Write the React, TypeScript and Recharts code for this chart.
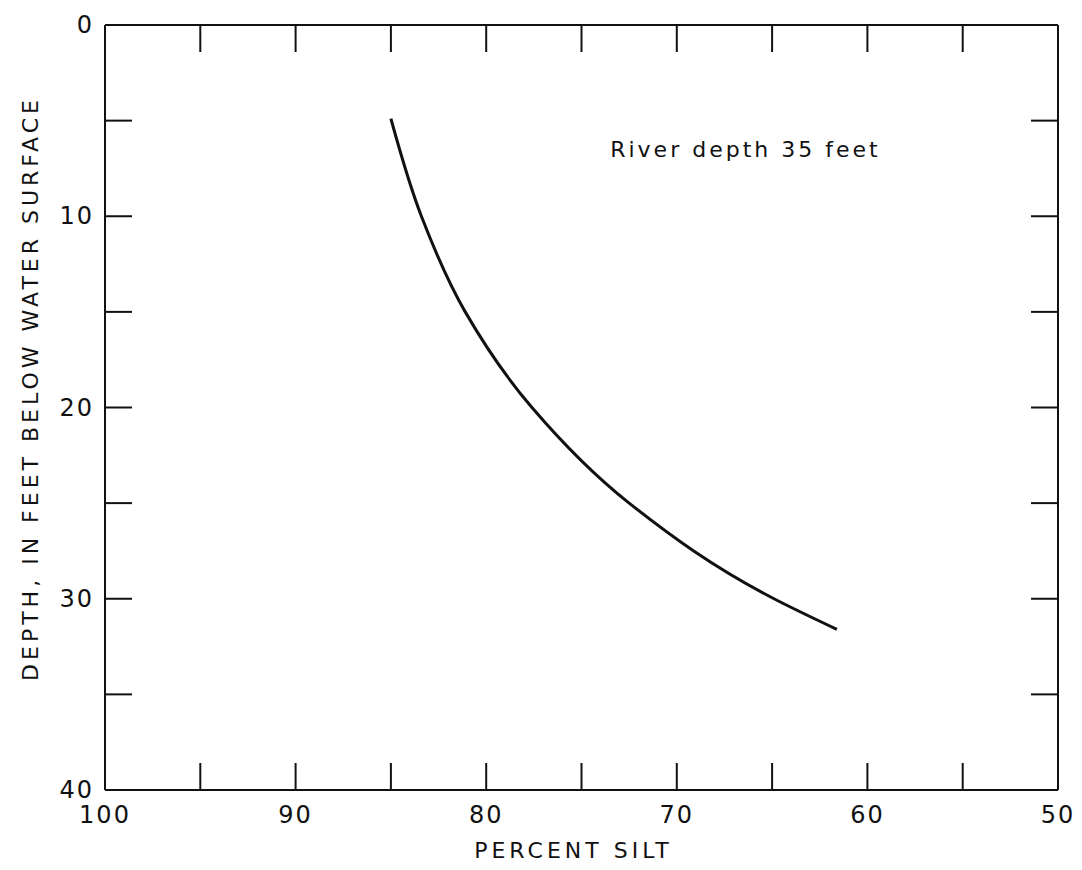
import React from "react";
import { LineChart, Line, XAxis, YAxis, ReferenceDot } from "recharts";

// Data
const depthFeet = [4.9, 10.0, 15.0, 20.0, 25.0, 30.0, 31.6];
const percentSilt = [85.0, 83.4, 81.1, 77.6, 72.5, 64.9, 61.6];

const xTicks = [100, 95, 90, 85, 80, 75, 70, 65, 60, 55, 50];
const yTicks = [0, 5, 10, 15, 20, 25, 30, 35, 40];
const xLabelled = [100, 90, 80, 70, 60, 50];
const yLabelled = [0, 10, 20, 30, 40];

const xTitle = "PERCENT SILT";
const yTitle = "DEPTH, IN FEET BELOW WATER SURFACE";
const note = "River depth 35 feet";
const noteSilt = 66.4;
const noteDepth = 6.9;

const data = depthFeet.map((d, i) => ({ depth: d, silt: percentSilt[i] }));

const FONT = "'DejaVu Sans', sans-serif";
const TICK_LEN = 27;
const INK = "#111";

const BottomTick = (props: any) => {
  const { x, y, payload } = props;
  const v = payload.value;
  return (
    <g>
      <line x1={x} y1={y} x2={x} y2={y - TICK_LEN} stroke={INK} strokeWidth={2} />
      {xLabelled.includes(v) && (
        <text x={x} y={y + 33} textAnchor="middle" fontSize={24} fontFamily={FONT} fill={INK} letterSpacing={2}>
          {v}
        </text>
      )}
    </g>
  );
};

const TopTick = (props: any) => {
  const { x, y } = props;
  return <line x1={x} y1={y} x2={x} y2={y + TICK_LEN} stroke={INK} strokeWidth={2} />;
};

const LeftTick = (props: any) => {
  const { x, y, payload } = props;
  const v = payload.value;
  return (
    <g>
      <line x1={x} y1={y} x2={x + TICK_LEN} y2={y} stroke={INK} strokeWidth={2} />
      {yLabelled.includes(v) && (
        <text x={x - 11} y={y} textAnchor="end" dominantBaseline="central" fontSize={24} fontFamily={FONT} fill={INK} letterSpacing={2}>
          {v}
        </text>
      )}
    </g>
  );
};

const RightTick = (props: any) => {
  const { x, y } = props;
  return <line x1={x} y1={y} x2={x - TICK_LEN} y2={y} stroke={INK} strokeWidth={2} />;
};

const YTitle = (props: any) => {
  const { viewBox } = props;
  const cx = viewBox.x + 30;
  const cy = viewBox.y + viewBox.height / 2 - 19;
  return (
    <text x={cx} y={cy} transform={`rotate(-90 ${cx} ${cy})`} textAnchor="middle" dominantBaseline="central" fontSize={22} fontFamily={FONT} fill={INK} letterSpacing={4}>
      {yTitle}
    </text>
  );
};

const XTitle = (props: any) => {
  const { viewBox } = props;
  const cx = viewBox.x + viewBox.width / 2 - 8;
  const cy = viewBox.y + 68;
  return (
    <text x={cx} y={cy} textAnchor="middle" fontSize={22} fontFamily={FONT} fill={INK} letterSpacing={4}>
      {xTitle}
    </text>
  );
};

const NoteLabel = (props: any) => {
  const { viewBox } = props;
  return (
    <text x={viewBox.x} y={viewBox.y} textAnchor="middle" fontSize={22} fontFamily={FONT} fill={INK} letterSpacing={3}>
      {note}
    </text>
  );
};

export default function App() {
  return (
    <div style={{ position: "absolute", left: 0, top: 0, width: 1082, height: 870, background: "#fff" }}>
      <LineChart width={1082} height={870} data={data} margin={{ top: 24, right: 23, bottom: 0, left: 0 }}>
        <XAxis
          xAxisId="bottom"
          dataKey="silt"
          type="number"
          domain={[50, 100]}
          reversed
          ticks={xTicks}
          interval={0}
          allowDataOverflow
          height={80}
          tickSize={0}
          tickMargin={0}
          tick={<BottomTick />}
          axisLine={{ stroke: INK, strokeWidth: 2 }}
          label={<XTitle />}
        />
        <XAxis
          xAxisId="top"
          orientation="top"
          dataKey="silt"
          type="number"
          domain={[50, 100]}
          reversed
          ticks={xTicks}
          interval={0}
          allowDataOverflow
          height={1}
          tickSize={0}
          tickMargin={0}
          tick={<TopTick />}
          axisLine={{ stroke: INK, strokeWidth: 2 }}
        />
        <YAxis
          yAxisId="left"
          type="number"
          domain={[0, 40]}
          reversed
          ticks={yTicks}
          interval={0}
          allowDataOverflow
          width={105}
          tickSize={0}
          tickMargin={0}
          tick={<LeftTick />}
          axisLine={{ stroke: INK, strokeWidth: 2 }}
          label={<YTitle />}
        />
        <YAxis
          yAxisId="right"
          orientation="right"
          type="number"
          domain={[0, 40]}
          reversed
          ticks={yTicks}
          interval={0}
          allowDataOverflow
          width={1}
          tickSize={0}
          tickMargin={0}
          tick={<RightTick />}
          axisLine={{ stroke: INK, strokeWidth: 2 }}
        />
        <Line
          xAxisId="bottom"
          yAxisId="left"
          dataKey="depth"
          type="monotoneY"
          stroke={INK}
          strokeWidth={3}
          dot={false}
          isAnimationActive={false}
        />
        <ReferenceDot xAxisId="bottom" yAxisId="left" x={noteSilt} y={noteDepth} r={0} fill="none" stroke="none" label={<NoteLabel />} />
      </LineChart>
    </div>
  );
}
